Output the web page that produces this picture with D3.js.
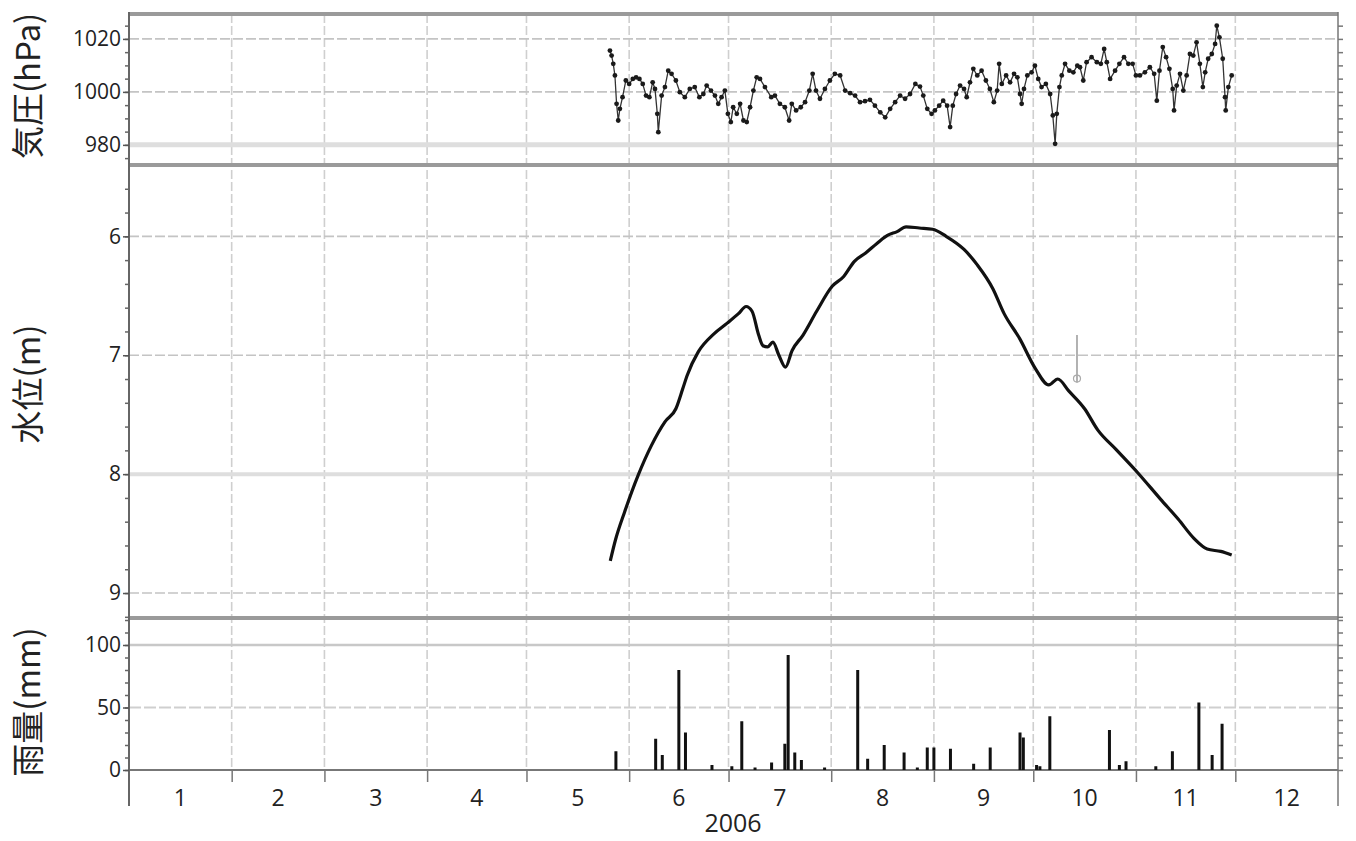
<!DOCTYPE html>
<html><head><meta charset="utf-8">
<script src="https://cdn.jsdelivr.net/npm/d3@7"></script>
<style>
body{margin:0;background:#fff;}
svg{display:block;}
text{font-family:"Open Sans","Noto Sans",sans-serif;fill:#222;}
</style></head>
<body><svg id="c" width="1356" height="841"></svg>
<script>
// ---- data (day-of-year 2006, Jan 1 = 0) ----
const monthLabels = ["1","2","3","4","5","6","7","8","9","10","11","12"];
const yearLabel = "2006";
const pressureTicks = [980, 1000, 1020];
const levelTicks = [6, 7, 8, 9];
const rainTicks = [0, 50, 100];

const pressureDay = [145.2,145.7,146.2,146.7,147.2,147.7,148.2,149.0,150.0,151.0,152.1,153.1,154.1,155.1,156.1,157.1,158.1,158.8,159.5,159.8,160.8,161.8,162.8,163.8,165.1,166.3,167.8,169.3,170.8,172.2,173.4,174.4,175.7,176.9,177.9,178.9,179.9,180.8,181.7,182.4,183.5,184.5,185.5,186.5,187.5,188.5,189.5,190.5,192.0,193.9,195.0,196.5,198.0,199.3,200.1,201.4,202.8,204.1,205.4,206.4,207.4,208.6,210.1,211.6,213.1,214.7,216.2,217.7,219.2,220.7,222.2,223.7,225.2,226.8,228.3,229.8,231.3,232.8,234.3,235.8,237.4,238.8,239.8,241.0,242.3,243.3,244.6,245.8,247.0,247.9,248.7,249.7,250.9,252.1,252.9,253.9,254.9,256.1,257.4,258.7,259.9,261.1,262.1,262.7,263.5,264.8,266.0,267.2,268.2,269.0,269.5,270.2,271.2,272.5,273.5,274.5,275.5,276.8,278.1,278.9,279.6,280.1,280.9,281.6,282.6,283.9,285.1,286.3,287.1,288.1,289.1,290.6,292.2,293.4,294.4,295.2,296.2,297.7,299.0,300.4,301.7,303.0,304.0,305.2,306.7,308.2,309.5,310.3,311.1,312.1,313.1,314.1,315.1,315.5,316.3,317.3,318.3,319.3,320.3,321.3,322.3,323.3,324.2,324.9,325.8,326.9,327.9,328.4,329.2,330.2,330.9,331.1,331.9,332.9];
const pressureHpa = [1015.6,1013.7,1010.6,1006.2,995.5,989.2,993.6,998,1004.3,1003,1004.9,1005.5,1004.9,1003,998.6,998,1003.6,1001.1,991.7,984.8,998.6,1001.8,1008,1006.8,1004.3,999.9,998,1001.1,1001.8,998,999.2,1002.4,1000.5,998.6,995.5,998,1000.5,991.7,988.6,994.2,991.7,995.5,989.2,988.6,994.2,1000.5,1005.5,1004.9,1001.8,998,998.6,995.5,994.2,989.2,995.5,993,994.2,996.1,1000.5,1006.8,1000.5,997.4,1001.1,1004.3,1006.8,1006.2,1000.5,999.5,998.6,996.1,996.5,997,994.8,992.3,990.4,993.6,996.1,998.6,997.4,999.2,1003,1002,998.6,993.6,991.7,993,994.8,996.7,994.8,986.7,994.8,999.2,1002.4,1001.1,998,1003.6,1008.7,1006.2,1008,1004.3,1001.1,996.1,1000.5,1010.6,1003,1006.2,1003.6,1006.8,1005.5,999.2,995.5,1001.1,1006.2,1007.4,1009.9,1004.9,1001.8,1003,999.2,991.1,980.4,991.7,1001.8,1006.2,1010.6,1008,1007.4,1009.9,1009.3,1004.3,1011.2,1013.1,1011.2,1010.6,1016.2,1011.2,1004.9,1008,1010.6,1013.1,1010.6,1010.6,1006.2,1006.2,1007.4,1009.3,1006.8,996.7,1008,1016.9,1013.1,1008.7,1001.1,993,1002.4,1006.8,1000.5,1006.2,1014.3,1013.7,1018.7,1010.6,1001.8,1007.4,1012.5,1014.3,1018.1,1025,1020.6,1012.5,998,993,1001.8,1006.2];

const levelDay = [145.3,146.9,149.6,153.7,157.7,161.8,165.1,167.2,168.5,171.9,176.6,180.6,184.0,186.3,188.1,190.1,191.4,192.8,194.4,196.2,198.2,200.2,203.5,207.6,212.3,215.7,219.0,222.4,225.8,229.1,231.9,234.6,238.6,242.6,246.7,252.1,256.1,260.8,264.2,268.9,273.6,277.7,280.4,283.7,288.5,292.5,297.9,304.6,311.4,316.8,321.5,325.5,329.6,332.9];
const levelM = [8.73,8.55,8.32,8.01,7.76,7.56,7.45,7.28,7.17,6.97,6.82,6.73,6.65,6.59,6.63,6.83,6.92,6.93,6.89,7.00,7.10,6.96,6.83,6.63,6.42,6.34,6.21,6.14,6.06,5.99,5.96,5.92,5.93,5.94,6.00,6.11,6.24,6.44,6.65,6.86,7.11,7.25,7.20,7.30,7.45,7.63,7.79,7.99,8.21,8.38,8.54,8.63,8.65,8.68];
// isolated gray spike in the level record
const spikeDay = [286.2];
const spikeTop = [6.83];
const spikeBottom = [7.23];

const rainDay = [147,159,161,166,168,176,182,185,189,194,198,199,201,203,210,220,223,228,234,238,241,243,248,255,260,269,270,274,275,278,296,299,301,310,315,323,327,330];
const rainMm = [15,25,12,80,30,4,3,39,2,6,21,92,14,8,2,80,9,20,14,2,18,18,17,5,18,30,26,4,3,43,32,4,7,3,15,54,12,37];

// ---- layout ----
const L = 129, R = 1338;
const T0 = new Date(2006, 0, 1);
const toDate = d => new Date(T0.getTime() + d * 864e5);
const x = d3.scaleTime().domain([T0, new Date(2007, 0, 1)]).range([L, R]);
const pY = d3.scaleLinear().domain([972.4, 1029.4]).range([165, 14]);
const wY = d3.scaleLinear().domain([5.40, 9.21]).range([165, 618]);
const rY = d3.scaleLinear().domain([0, 121.6]).range([770, 618]);

const svg = d3.select("#c");
const months = d3.timeMonth.range(T0, new Date(2007, 0, 1));

// vertical month grid
svg.append("g").selectAll("line").data(months.slice(1)).join("line")
  .attr("x1", d => x(d)).attr("x2", d => x(d)).attr("y1", 14).attr("y2", 770)
  .attr("stroke", "#cfcfcf").attr("stroke-width", 1.6).attr("stroke-dasharray", "9,3");

// horizontal grids
function hgrid(ticks, scale, styles) {
  svg.append("g").selectAll("line").data(ticks).join("line")
    .attr("x1", L).attr("x2", R).attr("y1", d => scale(d)).attr("y2", d => scale(d))
    .attr("stroke", (d, i) => styles[i].c).attr("stroke-width", (d, i) => styles[i].w)
    .attr("stroke-dasharray", (d, i) => styles[i].da);
}
hgrid(pressureTicks, pY, [{c:"#dedede",w:5,da:null},{c:"#c4c4c4",w:1.6,da:"10,3"},{c:"#c4c4c4",w:1.6,da:"10,3"}]);
hgrid(levelTicks, wY, [{c:"#c4c4c4",w:1.6,da:"10,3"},{c:"#c4c4c4",w:1.6,da:"10,3"},{c:"#dedede",w:4,da:null},{c:"#c4c4c4",w:1.6,da:"10,3"}]);
hgrid(rainTicks.slice(1), rY, [{c:"#cfcfcf",w:2,da:"12,3"},{c:"#c8c8c8",w:2.5,da:null}]);

// panel separators
[14, 165, 618].forEach(y => {
  svg.append("line").attr("x1", L).attr("x2", R).attr("y1", y).attr("y2", y)
    .attr("stroke", "#9a9a9a").attr("stroke-width", 4);
});
// rain zero line
svg.append("line").attr("x1", L).attr("x2", R).attr("y1", rY(0)).attr("y2", rY(0))
  .attr("stroke", "#777").attr("stroke-width", 2);

// frame lines
svg.append("line").attr("x1", L).attr("x2", L).attr("y1", 12).attr("y2", 806).attr("stroke", "#666").attr("stroke-width", 2);
svg.append("line").attr("x1", R).attr("x2", R).attr("y1", 12).attr("y2", 806).attr("stroke", "#777").attr("stroke-width", 1.5);

// axes
function yAxis(scale, major, minorStep, lo, hi, fmt) {
  const minor = d3.range(lo, hi + 1e-9, minorStep);
  const gm = svg.append("g").attr("transform", `translate(${L},0)`)
    .call(d3.axisLeft(scale).tickValues(minor).tickSize(4).tickFormat(""));
  gm.select(".domain").remove();
  gm.selectAll("line").attr("stroke", "#666").attr("stroke-width", 1.5);
  const g = svg.append("g").attr("transform", `translate(${L},0)`)
    .call(d3.axisLeft(scale).tickValues(major).tickSize(6).tickPadding(2).tickFormat(fmt));
  g.select(".domain").remove();
  g.selectAll("line").attr("stroke", "#555").attr("stroke-width", 1.5);
  g.selectAll("text").attr("font-size", 21).attr("fill", "#222").style("font-family", '"Open Sans",sans-serif');
  const gr = svg.append("g").attr("transform", `translate(${R},0)`)
    .call(d3.axisRight(scale).tickValues(minor).tickSize(5).tickFormat(""));
  gr.select(".domain").remove();
  gr.selectAll("line").attr("stroke", "#777").attr("stroke-width", 1.5);
}
yAxis(pY, pressureTicks, 5, 975, 1025, d3.format("d"));
yAxis(wY, levelTicks, 0.2, 5.6, 9.2, d3.format("d"));
yAxis(rY, rainTicks, 10, 0, 120, d3.format("d"));

// x axis
const gx = svg.append("g").attr("transform", `translate(0,${rY(0)})`)
  .call(d3.axisBottom(x).tickValues(months.slice(1)).tickSize(12).tickFormat(""));
gx.select(".domain").remove();
gx.selectAll("line").attr("stroke", "#777").attr("stroke-width", 1.5);
svg.append("g").selectAll("text").data(months).join("text")
  .attr("x", (d, i) => x(new Date(d.getTime() + (d3.timeMonth.offset(d, 1) - d) / 2)))
  .attr("y", 806).attr("text-anchor", "middle").attr("font-size", 23)
  .text((d, i) => monthLabels[i]);
svg.append("text").attr("x", 733).attr("y", 832).attr("text-anchor", "middle")
  .attr("font-size", 25).text(yearLabel);

// axis titles
function yTitle(t, cy) {
  svg.append("text").attr("transform", `translate(40,${cy}) rotate(-90)`)
    .attr("text-anchor", "middle").attr("font-size", 33)
    .style("font-family", '"Noto Sans CJK JP","Open Sans",sans-serif').text(t);
}
yTitle("気圧(hPa)", 86);
yTitle("水位(m)", 384);
yTitle("雨量(mm)", 702);

// pressure series
const pData = pressureDay.map((d, i) => ({ t: toDate(d), v: pressureHpa[i] }));
svg.append("path").datum(pData)
  .attr("d", d3.line().x(d => x(d.t)).y(d => pY(d.v)))
  .attr("fill", "none").attr("stroke", "#333").attr("stroke-width", 1.3);
svg.append("g").selectAll("circle").data(pData).join("circle")
  .attr("cx", d => x(d.t)).attr("cy", d => pY(d.v)).attr("r", 2.4).attr("fill", "#1a1a1a");

// water level series
const wData = levelDay.map((d, i) => ({ t: toDate(d), v: levelM[i] }));
svg.append("path").datum(wData)
  .attr("d", d3.line().curve(d3.curveMonotoneX).x(d => x(d.t)).y(d => wY(d.v)))
  .attr("fill", "none").attr("stroke", "#111").attr("stroke-width", 3.2);
svg.append("g").selectAll("line").data(spikeDay).join("line")
  .attr("x1", d => x(toDate(d))).attr("x2", d => x(toDate(d)))
  .attr("y1", (d, i) => wY(spikeTop[i])).attr("y2", (d, i) => wY(spikeBottom[i]))
  .attr("stroke", "#999").attr("stroke-width", 1.5);
svg.append("g").selectAll("circle").data(spikeDay).join("circle")
  .attr("cx", d => x(toDate(d))).attr("cy", (d, i) => wY(spikeBottom[i]) - 4).attr("r", 3.5)
  .attr("fill", "none").attr("stroke", "#aaa").attr("stroke-width", 1.2);

// rain bars
const rData = rainDay.map((d, i) => ({ t: toDate(d), v: rainMm[i] }));
svg.append("g").selectAll("rect").data(rData).join("rect")
  .attr("x", d => x(d.t) - 1.5).attr("width", 3)
  .attr("y", d => rY(d.v)).attr("height", d => rY(0) - rY(d.v))
  .attr("fill", "#111");
</script></body></html>
